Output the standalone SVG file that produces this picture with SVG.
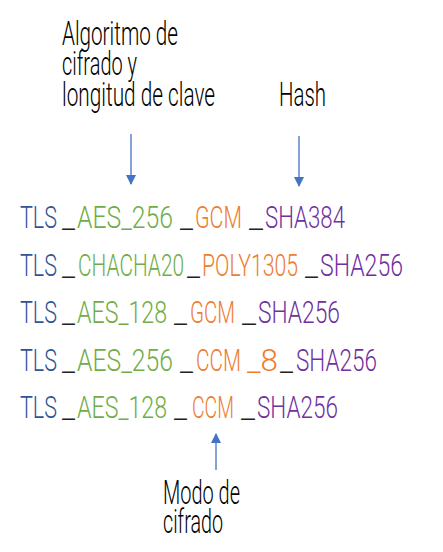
<svg xmlns="http://www.w3.org/2000/svg" width="443" height="552" viewBox="0 0 443 552">
<defs>
<marker id="ah" viewBox="0 0 10 10" refX="9" refY="5" markerWidth="10" markerHeight="10" markerUnits="userSpaceOnUse" orient="auto">
<path d="M0,0 L10,5 L0,10 z" fill="#4472C4"/>
</marker>
<style>
text{font-family:Roboto,"Liberation Sans",sans-serif;font-weight:300;}
.lbl{font-size:34px;fill:#000;}
.row{font-size:32px;}
.b{fill:#2F5597;}
.g{fill:#70AD47;}
.o{fill:#ED7D31;}
.p{fill:#7030A0;}
.k{fill:#222;}
.arr{stroke:#4472C4;stroke-width:1.3;fill:none;marker-end:url(#ah);}
</style>
</defs>
<rect width="443" height="552" fill="#fff"/>
<g id="connectors">
<line class="arr" x1="131" y1="134" x2="131" y2="184"/>
<line class="arr" x1="299" y1="136" x2="299" y2="186"/>
<line class="arr" x1="216" y1="470" x2="216" y2="434"/>
</g>
<g id="label-algoritmo">
<text class="lbl" x="62" y="45" textLength="116" lengthAdjust="spacingAndGlyphs">Algoritmo de</text>
<text class="lbl" x="62" y="75" textLength="75" lengthAdjust="spacingAndGlyphs">cifrado y</text>
<text class="lbl" x="62" y="106" textLength="153" lengthAdjust="spacingAndGlyphs">longitud de clave</text>
</g>
<g id="label-hash">
<text class="lbl" x="279" y="106" textLength="47" lengthAdjust="spacingAndGlyphs">Hash</text>
</g>
<g id="label-modo">
<text class="lbl" x="163" y="504" textLength="77" lengthAdjust="spacingAndGlyphs">Modo de</text>
<text class="lbl" x="163" y="533" textLength="60" lengthAdjust="spacingAndGlyphs">cifrado</text>
</g>
<g id="row1" class="row">
<text class="b" x="20" y="228" textLength="37" lengthAdjust="spacingAndGlyphs">TLS</text>
<text class="k" x="62" y="228" textLength="13" lengthAdjust="spacingAndGlyphs">_</text>
<text class="g" x="77" y="228" textLength="96" lengthAdjust="spacingAndGlyphs">AES_256</text>
<text class="k" x="180" y="228" textLength="13" lengthAdjust="spacingAndGlyphs">_</text>
<text class="o" x="195" y="228" textLength="47" lengthAdjust="spacingAndGlyphs">GCM</text>
<text class="k" x="249" y="228" textLength="14" lengthAdjust="spacingAndGlyphs">_</text>
<text class="p" x="265" y="228" textLength="80" lengthAdjust="spacingAndGlyphs">SHA384</text>
</g>
<g id="row2" class="row">
<text class="b" x="20" y="276" textLength="37" lengthAdjust="spacingAndGlyphs">TLS</text>
<text class="k" x="62" y="276" textLength="13" lengthAdjust="spacingAndGlyphs">_</text>
<text class="g" x="78" y="276" textLength="106" lengthAdjust="spacingAndGlyphs">CHACHA20</text>
<text class="k" x="187" y="276" textLength="13" lengthAdjust="spacingAndGlyphs">_</text>
<text class="o" x="202" y="276" textLength="96" lengthAdjust="spacingAndGlyphs">POLY1305</text>
<text class="k" x="305" y="276" textLength="13" lengthAdjust="spacingAndGlyphs">_</text>
<text class="p" x="320" y="276" textLength="83" lengthAdjust="spacingAndGlyphs">SHA256</text>
</g>
<g id="row3" class="row">
<text class="b" x="20" y="323" textLength="37" lengthAdjust="spacingAndGlyphs">TLS</text>
<text class="k" x="62" y="323" textLength="13" lengthAdjust="spacingAndGlyphs">_</text>
<text class="g" x="77" y="323" textLength="90" lengthAdjust="spacingAndGlyphs">AES_128</text>
<text class="k" x="174" y="323" textLength="13" lengthAdjust="spacingAndGlyphs">_</text>
<text class="o" x="190" y="323" textLength="45" lengthAdjust="spacingAndGlyphs">GCM</text>
<text class="k" x="242" y="323" textLength="14" lengthAdjust="spacingAndGlyphs">_</text>
<text class="p" x="258" y="323" textLength="82" lengthAdjust="spacingAndGlyphs">SHA256</text>
</g>
<g id="row4" class="row">
<text class="b" x="20" y="371" textLength="37" lengthAdjust="spacingAndGlyphs">TLS</text>
<text class="k" x="62" y="371" textLength="13" lengthAdjust="spacingAndGlyphs">_</text>
<text class="g" x="77" y="371" textLength="96" lengthAdjust="spacingAndGlyphs">AES_256</text>
<text class="k" x="180" y="371" textLength="13" lengthAdjust="spacingAndGlyphs">_</text>
<text class="o" x="196" y="371" textLength="45" lengthAdjust="spacingAndGlyphs">CCM</text>
<text class="o" x="247" y="371" textLength="31" lengthAdjust="spacingAndGlyphs">_8</text>
<text class="k" x="280" y="371" textLength="13" lengthAdjust="spacingAndGlyphs">_</text>
<text class="p" x="296" y="371" textLength="81" lengthAdjust="spacingAndGlyphs">SHA256</text>
</g>
<g id="row5" class="row">
<text class="b" x="20" y="418" textLength="37" lengthAdjust="spacingAndGlyphs">TLS</text>
<text class="k" x="62" y="418" textLength="13" lengthAdjust="spacingAndGlyphs">_</text>
<text class="g" x="77" y="418" textLength="90" lengthAdjust="spacingAndGlyphs">AES_128</text>
<text class="k" x="174" y="418" textLength="13" lengthAdjust="spacingAndGlyphs">_</text>
<text class="o" x="192" y="418" textLength="42" lengthAdjust="spacingAndGlyphs">CCM</text>
<text class="k" x="241" y="418" textLength="14" lengthAdjust="spacingAndGlyphs">_</text>
<text class="p" x="257" y="418" textLength="81" lengthAdjust="spacingAndGlyphs">SHA256</text>
</g>
</svg>
